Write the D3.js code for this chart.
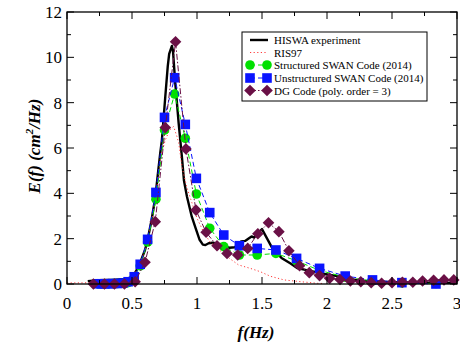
<!DOCTYPE html>
<html>
<head>
<meta charset="utf-8">
<script src="https://cdn.jsdelivr.net/npm/d3@7"></script>
<style>
  html, body { margin: 0; padding: 0; background: #fff; }
  svg { display: block; font-family: "Liberation Serif", "Times New Roman", serif; }
</style>
</head>
<body>
<svg id="chart" width="460" height="353"></svg>
<script>
// HISWA experiment (measured spectrum)
const hiswaF = [0.16,0.2,0.25,0.3,0.35,0.4,0.45,0.5,0.53,0.56,0.6,0.62,0.65,0.68,0.7,0.717,0.73,0.756,0.775,0.786,0.807,0.815,0.833,0.859,0.884,0.9,0.923,0.96,0.99,1.02,1.045,1.065,1.09,1.12,1.16,1.2,1.25,1.29,1.31,1.34,1.37,1.4,1.42,1.44,1.47,1.5,1.53,1.58,1.65,1.72,1.77,1.87,1.98,2.08,2.18,2.28,2.4,2.6,2.8,3.0];
const hiswaE = [0.12,0.15,0.17,0.18,0.18,0.2,0.22,0.3,0.55,0.9,1.5,1.95,2.8,3.85,4.9,5.76,6.35,8.26,9.6,10.15,10.5,10.3,8.85,7.09,5.6,4.55,3.85,2.97,2.45,1.95,1.74,1.72,1.8,1.82,1.78,1.68,1.6,1.62,1.7,1.88,1.9,2.02,2.1,2.05,2.25,2.42,2.1,1.57,1.15,0.9,0.7,0.58,0.44,0.35,0.21,0.13,0.1,0.07,0.06,0.05];

// RIS97
const risF = [0.0,0.1,0.2,0.3,0.4,0.5,0.55,0.6,0.65,0.7,0.72,0.756,0.79,0.82,0.846,0.86,0.884,0.92,0.96,1.0,1.05,1.1,1.154,1.2,1.257,1.32,1.41,1.488,1.565,1.67,1.8,1.93,1.98];
const risE = [0.05,0.05,0.06,0.08,0.12,0.3,0.7,1.5,2.7,4.6,5.6,6.35,6.8,6.95,6.5,6.2,5.2,4.3,3.6,2.9,2.3,1.85,1.6,1.35,1.1,0.84,0.69,0.54,0.34,0.18,0.1,0.03,0.02];

// SWAN runs share one logarithmic frequency grid
const swanF = [0.24,0.265,0.29,0.32,0.35,0.39,0.43,0.47,0.517,0.563,0.62,0.684,0.75,0.828,0.91,0.995,1.098,1.206,1.326,1.463,1.607,1.766,1.943,2.14,2.35,2.576,2.838];
const structE = [0.01,0.01,0.01,0.01,0.02,0.02,0.03,0.06,0.28,0.8,1.85,3.74,6.79,8.38,6.43,3.97,2.46,1.65,1.28,1.28,1.35,1.02,0.6,0.3,0.14,0.05,0.02];
const unstructE = [0.01,0.01,0.01,0.01,0.02,0.02,0.04,0.1,0.32,0.87,1.97,4.04,7.35,9.1,7.04,4.66,3.15,2.16,1.69,1.57,1.5,1.13,0.69,0.35,0.18,0.06,0.0];

// DG code, polynomial order 3
const dgF = [0.203,0.288,0.365,0.442,0.524,0.6,0.679,0.756,0.835,0.915,0.992,1.07,1.154,1.231,1.313,1.39,1.468,1.55,1.63,1.707,1.789,1.864,1.943,2.02,2.1,2.18,2.26,2.34,2.42,2.5,2.58,2.66,2.735,2.82,2.9,2.975];
const dgE = [0,0,0,0,0.1,0.96,2.75,6.9,10.69,5.96,3.26,2.28,1.69,1.35,1.28,1.57,2.22,2.7,2.31,1.47,0.81,0.5,0.37,0.25,0.2,0.13,0.1,0.06,0.03,0.06,0.08,0.08,0.13,0.16,0.18,0.18];

const xMajor = [0, 0.5, 1, 1.5, 2, 2.5, 3];
const xMinor = [0.25, 0.75, 1.25, 1.75, 2.25, 2.75];
const yMajor = [0, 2, 4, 6, 8, 10, 12];
const yMinor = [1, 3, 5, 7, 9, 11];

const legendLabels = ["HISWA experiment", "RIS97", "Structured SWAN Code (2014)", "Unstructured SWAN Code (2014)", "DG Code (poly. order = 3)"];

const svg = d3.select("#chart");
const plotL = 67, plotR = 457, plotT = 12, plotB = 284;
const x = d3.scaleLinear().domain([0, 3]).range([plotL, plotR]);
const y = d3.scaleLinear().domain([0, 12]).range([plotB, plotT]);

const series = [
  { f: hiswaF, e: hiswaE, color: "#000000", width: 2.4, dash: null, marker: null },
  { f: risF, e: risE, color: "#ff3b3b", width: 1, dash: "1.2,2.4", marker: null },
  { f: swanF, e: structE, color: "#00e000", width: 1, dash: "5,3", marker: "circle" },
  { f: swanF, e: unstructE, color: "#0a14ff", width: 1, dash: "5,3", marker: "square" },
  { f: dgF, e: dgE, color: "#6a1046", width: 1, dash: "6,2,1.5,2", marker: "diamond" }
];

const line = d3.line().x(d => x(d[0])).y(d => y(d[1]));

function drawMarker(g, type, cx, cy, color) {
  if (type === "circle") {
    g.append("circle").attr("cx", cx).attr("cy", cy).attr("r", 4.8).attr("fill", color);
  } else if (type === "square") {
    g.append("rect").attr("x", cx - 4.8).attr("y", cy - 4.8).attr("width", 9.6).attr("height", 9.6).attr("fill", color);
  } else if (type === "diamond") {
    const s = 5.8;
    g.append("path").attr("d", `M${cx},${cy - s}L${cx + s},${cy}L${cx},${cy + s}L${cx - s},${cy}Z`).attr("fill", color);
  }
}

const plot = svg.append("g");
series.forEach(s => {
  const pts = s.f.map((f, i) => [f, s.e[i]]);
  plot.append("path").datum(pts).attr("d", line)
    .attr("fill", "none").attr("stroke", s.color).attr("stroke-width", s.width)
    .attr("stroke-dasharray", s.dash).attr("stroke-linejoin", "round");
  if (s.marker) {
    const mg = plot.append("g");
    pts.forEach(p => drawMarker(mg, s.marker, x(p[0]), y(p[1]), s.color));
  }
});

// frame
svg.append("rect").attr("x", plotL).attr("y", plotT).attr("width", plotR - plotL).attr("height", plotB - plotT)
  .attr("fill", "none").attr("stroke", "#000").attr("stroke-width", 1.3);

// ticks inside on all four sides
const tk = svg.append("g").attr("stroke", "#000").attr("stroke-width", 1);
xMajor.forEach(v => {
  tk.append("line").attr("x1", x(v)).attr("x2", x(v)).attr("y1", plotB).attr("y2", plotB - 7);
  tk.append("line").attr("x1", x(v)).attr("x2", x(v)).attr("y1", plotT).attr("y2", plotT + 7);
});
xMinor.forEach(v => {
  tk.append("line").attr("x1", x(v)).attr("x2", x(v)).attr("y1", plotB).attr("y2", plotB - 4);
  tk.append("line").attr("x1", x(v)).attr("x2", x(v)).attr("y1", plotT).attr("y2", plotT + 4);
});
yMajor.forEach(v => {
  tk.append("line").attr("x1", plotL).attr("x2", plotL + 7).attr("y1", y(v)).attr("y2", y(v));
  tk.append("line").attr("x1", plotR).attr("x2", plotR - 7).attr("y1", y(v)).attr("y2", y(v));
});
yMinor.forEach(v => {
  tk.append("line").attr("x1", plotL).attr("x2", plotL + 4).attr("y1", y(v)).attr("y2", y(v));
  tk.append("line").attr("x1", plotR).attr("x2", plotR - 4).attr("y1", y(v)).attr("y2", y(v));
});

// tick labels
svg.append("g").selectAll("text").data(xMajor).join("text")
  .attr("x", d => x(d)).attr("y", 309).attr("text-anchor", "middle")
  .attr("font-size", 17).text(d => d3.format("")(d));
svg.append("g").selectAll("text").data(yMajor).join("text")
  .attr("x", 62).attr("y", d => y(d) + 6).attr("text-anchor", "end")
  .attr("font-size", 17).text(d => d);

// axis titles
svg.append("text").attr("x", 256).attr("y", 338).attr("text-anchor", "middle")
  .attr("font-size", 17).attr("font-weight", "bold").attr("font-style", "italic").text("f(Hz)");
const yt = svg.append("text").attr("transform", "translate(40,146) rotate(-90)")
  .attr("text-anchor", "middle").attr("font-size", 17).attr("font-weight", "bold").attr("font-style", "italic");
yt.append("tspan").text("E(f) (cm");
yt.append("tspan").attr("font-size", 11).attr("dy", -7).text("2");
yt.append("tspan").attr("dy", 7).text("/Hz)");

// legend
const lg = svg.append("g");
lg.append("rect").attr("x", 242).attr("y", 32).attr("width", 185).attr("height", 69)
  .attr("fill", "#fff").attr("stroke", "#000").attr("stroke-width", 1);
const rowY = [40, 52.5, 65, 78, 90.5];
series.forEach((s, i) => {
  const yy = rowY[i];
  lg.append("line").attr("x1", 250).attr("x2", 268).attr("y1", yy).attr("y2", yy)
    .attr("stroke", s.color).attr("stroke-width", s.width).attr("stroke-dasharray", s.dash);
  if (s.marker) {
    drawMarker(lg, s.marker, 250, yy, s.color);
    drawMarker(lg, s.marker, 267, yy, s.color);
  }
  lg.append("text").attr("x", 274).attr("y", yy + 4).attr("font-size", 11).text(legendLabels[i]);
});
</script>
</body>
</html>
